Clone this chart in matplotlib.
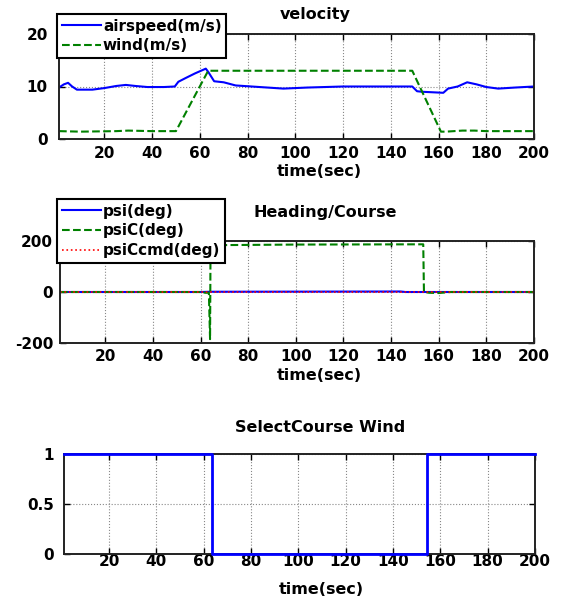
import matplotlib.pyplot as plt

plt.rcParams['font.family'] = ['DejaVu Sans']
plt.rcParams['font.weight'] = 'bold'
plt.rcParams['font.size'] = 11
plt.rcParams['axes.unicode_minus'] = False

# velocity
t_air = [1, 3, 4.8, 6.5, 8.5, 15, 20, 25, 29, 33, 38, 45, 49.5, 51, 54, 58, 62.5,
         63.5, 66, 70, 75, 85, 95, 105, 120, 149, 151, 153, 162, 164, 168, 172,
         176, 180, 185, 192, 200]
airspeed = [9.8, 10.4, 10.7, 10.0, 9.4, 9.4, 9.7, 10.1, 10.3, 10.1, 9.9, 9.9, 10.0,
            10.9, 11.6, 12.5, 13.4, 12.8, 11.0, 10.8, 10.2, 9.9, 9.6, 9.8, 10.0,
            10.0, 9.1, 9.0, 8.8, 9.6, 10.0, 10.8, 10.4, 9.9, 9.6, 9.8, 10.0]
t_wind = [1, 10, 25, 30, 40, 50, 63.5, 149, 161, 163, 170, 175, 180, 200]
wind = [1.5, 1.4, 1.5, 1.6, 1.5, 1.5, 13.0, 13.0, 1.4, 1.4, 1.6, 1.6, 1.5, 1.5]

# heading / course
t_psi = [1, 60, 64, 144, 146, 200]
psi = [0, 0, 1, 2, 0, 0]
t_psic = [1, 60, 62, 63.5, 64.0, 64.2, 70, 100, 153.5, 153.8, 156, 160, 165, 200]
psic = [0, 0, -3, -3, -185, 183, 184, 186, 187, 0, -3, -4, 0, 0]
t_cmd = [1, 200]
psic_cmd = [0, 0]

# course selection flag
t_sel = [1, 63.6, 63.6, 154.3, 154.3, 200]
select = [1, 1, 0, 0, 1, 1]

W, H = 564, 599
fig = plt.figure(figsize=(W / 100, H / 100), dpi=100)


def box(l, r, t, b):
    return [l / W, 1 - b / H, (r - l) / W, (b - t) / H]


def style(ax, ylim, yticks, xpad, ypad):
    ax.set_xlim(1, 200)
    ax.set_xticks(range(20, 201, 20))
    ax.set_ylim(*ylim)
    ax.set_yticks(yticks)
    ax.grid(True, ls=':', color='#888888', lw=0.8)
    ax.tick_params(direction='in', top=True, right=True, length=4, width=1)
    ax.tick_params(axis='x', pad=xpad)
    ax.tick_params(axis='y', pad=ypad)
    for s in ax.spines.values():
        s.set_linewidth(1.4)
        s.set_color('#222222')


def legend(ax, x, y):
    lg = ax.legend(loc='upper left', bbox_to_anchor=(x, y), borderaxespad=0,
                   fancybox=False, framealpha=1, edgecolor='black',
                   handlelength=2.55, handletextpad=0.15, borderpad=0.3,
                   labelspacing=0.3, fontsize=11)
    lg.get_frame().set_linewidth(1.5)
    lg.set_zorder(10)


green = (0, 0.5, 0)

ax1 = fig.add_axes(box(59, 534, 34, 139))
ax1.plot(t_air, airspeed, color='blue', lw=1.5, label='airspeed(m/s)')
ax1.plot(t_wind, wind, color=green, ls='--', lw=1.5, label='wind(m/s)')
style(ax1, (0, 20), [0, 10, 20], 5, 8)
legend(ax1, -0.004, 1.19)

ax2 = fig.add_axes(box(60, 534, 241, 343))
ax2.plot(t_psi, psi, color='blue', lw=1.5, label='psi(deg)')
ax2.plot(t_psic, psic, color=green, ls='--', lw=1.5, label='psiC(deg)')
ax2.plot(t_cmd, psic_cmd, color='red', ls=':', lw=1.2, label='psiCcmd(deg)')
style(ax2, (-200, 200), [-200, 0, 200], 4, 5)
legend(ax2, -0.006, 1.41)

ax3 = fig.add_axes(box(64, 535, 454, 554))
ax3.plot(t_sel, select, color='blue', lw=2, clip_on=False, zorder=5)
style(ax3, (0, 1), [0, 0.5, 1], 0, 7)
ax3.set_yticklabels(['0', '0.5', '1'])

# titles and axis labels
for text, x, y in [('velocity', 315, 15), ('Heading/Course', 325, 213),
                   ('SelectCourse Wind', 320, 428)]:
    fig.text(x / W, 1 - y / H, text, ha='center', va='center',
             fontsize=11.5, fontweight='bold')
for x, y in [(319, 172), (319, 376), (321, 589)]:
    fig.text(x / W, 1 - y / H, 'time(sec)', ha='center', va='center',
             fontsize=11.5, fontweight='bold')

fig.savefig('out.png', dpi=100)
